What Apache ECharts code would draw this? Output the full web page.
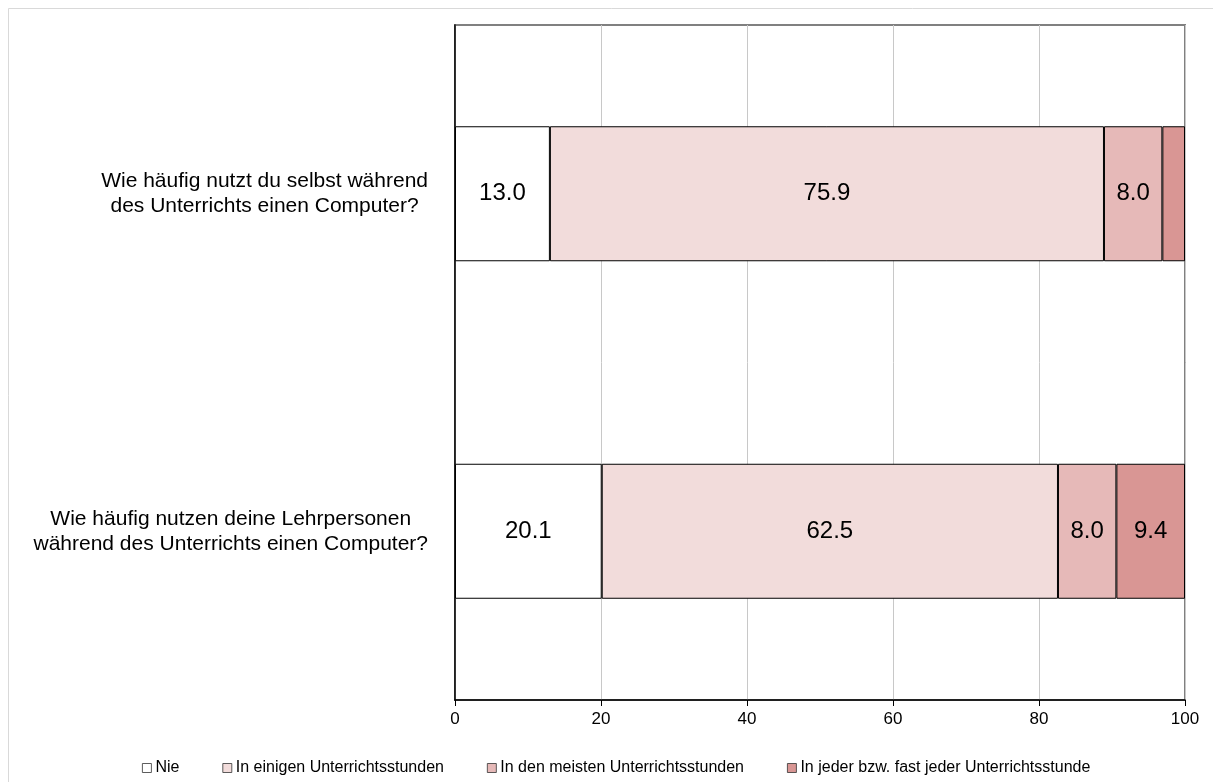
<!DOCTYPE html>
<html>
<head>
<meta charset="utf-8">
<script src="https://cdn.jsdelivr.net/npm/echarts@6/dist/echarts.min.js"></script>
<style>
  html, body { margin: 0; padding: 0; background: #fff; }
  #chart { width: 1213px; height: 782px; }
</style>
</head>
<body>
<div id="chart"></div>
<script>
// Survey questions (top to bottom)
const questions = [
  'Wie häufig nutzt du selbst während\ndes Unterrichts einen Computer?',
  'Wie häufig nutzen deine Lehrpersonen\nwährend des Unterrichts einen Computer?'
];

// Answer categories
const answers = [
  'Nie',
  'In einigen Unterrichtsstunden',
  'In den meisten Unterrichtsstunden',
  'In jeder bzw. fast jeder Unterrichtsstunde'
];

// Percentages per answer, one value per question
const nie = [13.0, 20.1];
const einige = [75.9, 62.5];
const meiste = [8.0, 8.0];
const jede = [3.1, 9.4];

// X axis ticks
const xTicks = [0, 20, 40, 60, 80, 100];

const colors = ['#FFFFFF', '#F2DCDB', '#E6B9B8', '#D99694'];
const values = [nie, einige, meiste, jede];
const FONT = "'Liberation Sans', Arial, sans-serif";

const chart = echarts.init(document.getElementById('chart'), null, { renderer: 'canvas' });

const series = answers.map((name, i) => ({
  name: name,
  type: 'bar',
  stack: 'total',
  barWidth: '40%',
  data: values[i],
  itemStyle: { color: colors[i], borderColor: '#000', borderWidth: 1 },
  label: {
    show: true,
    position: 'inside',
    color: '#000',
    fontFamily: FONT,
    fontSize: 24,
    formatter: p => (p.value >= 5 ? p.value.toFixed(1) : '')
  },
  emphasis: { disabled: true }
}));

chart.setOption({
  animation: false,
  backgroundColor: '#fff',
  graphic: [{
    type: 'rect',
    shape: { x: 8.5, y: 8.5, width: 1230, height: 800 },
    style: { fill: 'none', stroke: '#d9d9d9', lineWidth: 1 },
    silent: true,
    z: -10
  }],
  grid: {
    left: 455, right: 28, top: 25, bottom: 82,
    show: true,
    borderColor: '#808080',
    borderWidth: 2,
    backgroundColor: 'transparent'
  },
  legend: {
    data: answers,
    left: 137,
    top: 755,
    itemWidth: 9,
    itemHeight: 9,
    itemGap: 43,
    icon: 'rect',
    itemStyle: { borderColor: '#333', borderWidth: 0.8 },
    textStyle: { color: '#000', fontFamily: FONT, fontSize: 16, padding: [0, 0, 0, -1] },
    selectedMode: false
  },
  xAxis: {
    type: 'value',
    min: xTicks[0],
    max: xTicks[xTicks.length - 1],
    interval: xTicks[1] - xTicks[0],
    axisLine: { show: true, lineStyle: { color: '#000', width: 1.5 } },
    axisTick: { show: true, length: 6, lineStyle: { color: '#000' } },
    axisLabel: { color: '#000', fontFamily: FONT, fontSize: 17, margin: 11 },
    splitLine: { show: true, lineStyle: { color: '#c8c8c8', width: 1 } }
  },
  yAxis: {
    type: 'category',
    inverse: true,
    data: questions,
    axisLine: { show: true, lineStyle: { color: '#000', width: 1.5 } },
    axisTick: { show: false },
    axisLabel: {
      margin: 27,
      align: 'right',
      formatter: v => v.split('\n').map(l => '{c|' + l + '}').join('\n'),
      rich: {
        c: { align: 'center', color: '#000', fontFamily: FONT, fontSize: 21, lineHeight: 25 }
      }
    }
  },
  series: series
});
</script>
</body>
</html>
